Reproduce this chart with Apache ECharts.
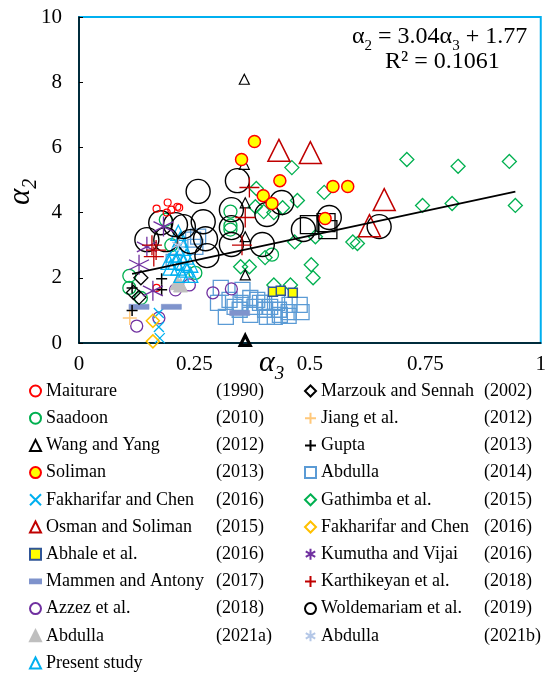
<!DOCTYPE html>
<html>
<head>
<meta charset="utf-8">
<script src="https://cdn.jsdelivr.net/npm/echarts@6/dist/echarts.min.js"></script>
<style>
  html, body { margin: 0; padding: 0; background: #fff; }
  #chart { width: 549px; height: 673px; }
</style>
</head>
<body>
<div id="chart"></div>
<script>
// Axis ticks
const xTicks = [0, 0.25, 0.5, 0.75, 1];
const yTicks = [0, 2, 4, 6, 8, 10];

// Linear fit α2 = a·α3 + b over the data range
const fitSlope = 3.04;
const fitIntercept = 1.77;
const fitR2 = '0.1061';
const fitRange = [0.115, 0.945];

// [α3, α2] pairs per study
const maiturare = [[0.168,4.12],[0.192,4.31],[0.2,4.09],[0.213,4.18],[0.217,4.15],[0.19,4.0],[0.168,1.69]];
const saadoon = [[0.109,2.06],[0.109,1.69],[0.134,1.38],[0.188,3.78],[0.2,3.0],[0.252,2.15],[0.328,4.03],[0.328,3.6],[0.328,3.48],[0.418,2.71]];
const wangYang = [[0.358,8.09],[0.358,5.48],[0.36,4.3],[0.36,3.26],[0.36,2.09]];
const wangYangLow = [0.36,0.08];
const soliman = [[0.38,6.18],[0.352,5.63],[0.435,4.98],[0.399,4.52],[0.418,4.28],[0.55,4.8],[0.582,4.8],[0.533,3.82]];
const fakharifarX = [[0.173,0.92],[0.173,0.49],[0.175,0.15]];
const osmanSoliman = [[0.433,5.91],[0.501,5.84],[0.661,4.4],[0.629,3.6]];
const abhale = [[0.42,1.57],[0.437,1.6],[0.463,1.54]];
const mammenAntony = [[0.13,1.11],[0.2,1.11],[0.348,0.92]];
const azzez = [[0.125,0.52],[0.173,0.77],[0.209,1.63],[0.239,1.78],[0.29,1.54],[0.33,1.66]];
const abdulla2021a = [[0.22,1.78],[0.212,1.85]];
const presentStudy = [[0.215,3.38],[0.219,3.17],[0.211,2.92],[0.226,2.92],[0.205,2.71],[0.219,2.71],[0.232,2.65],[0.209,2.49],[0.226,2.46],[0.241,2.4],[0.215,2.31],[0.232,2.25],[0.222,2.09],[0.241,2.09],[0.194,2.49],[0.198,2.31]];
const marzoukSennah = [[0.134,2.0],[0.118,1.55],[0.13,1.4]];
const jiang = [[0.11,0.77]];
const gupta = [[0.179,1.97],[0.179,1.63],[0.115,1.69],[0.115,1.0]];
const abdulla2014 = [[0.307,1.69],[0.301,1.23],[0.318,0.8],[0.326,1.32],[0.337,1.11],[0.354,1.63],[0.371,1.38],[0.38,1.11],[0.371,0.86],[0.392,1.23],[0.403,1.02],[0.407,0.8],[0.429,1.23],[0.433,1.02],[0.424,0.8],[0.454,0.95],[0.456,1.17],[0.478,1.17],[0.482,0.95],[0.35,1.23],[0.348,1.02],[0.386,1.32],[0.414,1.11],[0.401,1.23],[0.435,0.86],[0.454,0.83],[0.258,3.26],[0.247,3.17],[0.252,2.95],[0.205,2.49]];
const gathimba = [[0.71,5.63],[0.821,5.42],[0.932,5.57],[0.945,4.22],[0.808,4.28],[0.744,4.22],[0.461,5.38],[0.531,4.62],[0.473,4.37],[0.441,4.15],[0.603,3.05],[0.512,3.26],[0.467,3.1],[0.503,2.4],[0.507,2.0],[0.458,1.78],[0.384,4.74],[0.382,4.18],[0.4,4.03],[0.422,4.0],[0.403,2.62],[0.35,2.34],[0.369,2.34],[0.593,3.1],[0.422,1.78]];
const fakharifarD = [[0.16,0.68],[0.16,0.05]];
const kumuthaVijai = [[0.13,2.4],[0.147,2.95],[0.16,1.6],[0.183,3.57]];
const karthikeyan = [[0.158,3.0],[0.162,2.65],[0.167,2.85],[0.369,4.77],[0.36,3.85],[0.353,3.0]];
const woldemariam = [[0.258,4.65],[0.343,4.98],[0.33,4.09],[0.33,3.54],[0.33,3.02],[0.397,3.02],[0.407,3.94],[0.439,4.31],[0.177,3.69],[0.209,3.63],[0.226,3.57],[0.147,3.17],[0.188,3.17],[0.241,3.11],[0.269,3.72],[0.274,3.2],[0.277,2.68],[0.486,3.48],[0.542,3.85],[0.65,3.57]];
const abdulla2021b = [[0.215,3.0]];
const openSquares = [[0.499,3.63],[0.535,3.69],[0.539,3.48]];

const SERIF = '"Liberation Serif", "Times New Roman", serif';
const NONE = 'rgba(0,0,0,0)';
const PLUS = 'path://M5,0L5,10M0,5L10,5';
const CROSS = 'path://M0,0L10,10M10,0L0,10';
const STAR = 'path://M5,0L5,10M0.7,2.5L9.3,7.5M0.7,7.5L9.3,2.5';
const BAR = 'path://M0,0L12,0L12,4L0,4Z';

function sc(name, data, symbol, size, fill, stroke, bw, z) {
  return {
    type: 'scatter', name, data, symbol, symbolSize: size,
    itemStyle: { color: fill, borderColor: stroke, borderWidth: bw, opacity: 1 },
    z: z || 2, silent: true, animation: false
  };
}

const series = [
  sc('Abdulla (2014)', abdulla2014, 'rect', 15, NONE, '#5B9BD5', 1.3),
  sc('Gathimba et al. (2015)', gathimba, 'diamond', 14, NONE, '#00B050', 1.3),
  sc('Saadoon (2010)', saadoon, 'circle', 13, NONE, '#00B050', 1.3),
  sc('Azzez et al. (2018)', azzez, 'circle', 12, NONE, '#7030A0', 1.3),
  sc('Abdulla (2021a)', abdulla2021a, 'triangle', 14, '#BFBFBF', '#BFBFBF', 1),
  sc('Present study', presentStudy, 'triangle', 15, NONE, '#00B0F0', 1.3),
  sc('Woldemariam et al. (2019)', woldemariam, 'circle', 24, NONE, '#000000', 1.4),
  sc('Unlisted data', openSquares, 'rect', 18, NONE, '#000000', 1.3),
  sc('Maiturare (1990)', maiturare, 'circle', 7, NONE, '#FF0000', 1.2),
  sc('Wang and Yang (2012)', wangYang.concat([{ value: wangYangLow, itemStyle: { borderWidth: 3.2 } }]), 'triangle', 10, NONE, '#000000', 1.2),
  sc('Soliman (2013)', soliman, 'circle', 12, '#FFFF00', '#FF0000', 1.5, 3),
  sc('Fakharifar and Chen (2016)', fakharifarX, CROSS, 10, NONE, '#00B0F0', 1.3),
  sc('Osman and Soliman (2015)', osmanSoliman, 'triangle', 22, NONE, '#C00000', 1.5),
  sc('Abhale et al. (2016)', abhale, 'rect', 9, '#FFFF00', '#2F5597', 1.5, 3),
  sc('Mammen and Antony (2017)', mammenAntony, 'rect', [20, 5], '#7F93CC', '#7F93CC', 0.5),
  sc('Marzouk and Sennah (2002)', marzoukSennah, 'diamond', 14, NONE, '#000000', 1.3),
  sc('Jiang et al. (2012)', jiang, PLUS, 14, NONE, '#FFC87A', 1.5),
  sc('Gupta (2013)', gupta, PLUS, 11, NONE, '#000000', 1.5),
  sc('Fakharifar and Chen  (2016)', fakharifarD, 'diamond', 13, NONE, '#FFC000', 1.5),
  sc('Kumutha and Vijai (2016)', kumuthaVijai, STAR, 20, NONE, '#7030A0', 1.3),
  sc('Karthikeyan et al. (2018)', karthikeyan, PLUS, 20, NONE, '#C00000', 1.3),
  sc('Abdulla (2021b)', abdulla2021b, STAR, 12, NONE, '#B4C7E7', 1.3),
  {
    type: 'line', name: 'Linear fit', silent: true, animation: false, z: 5,
    symbol: 'none',
    lineStyle: { color: '#000', width: 1.8 },
    data: fitRange.map(x => [x, fitSlope * x + fitIntercept])
  }
];

const leftItems = ['Maiturare (1990)', 'Saadoon (2010)', 'Wang and Yang (2012)', 'Soliman (2013)',
  'Fakharifar and Chen (2016)', 'Osman and Soliman (2015)', 'Abhale et al. (2016)',
  { name: 'Mammen and Antony (2017)', icon: BAR }, 'Azzez et al. (2018)', 'Abdulla (2021a)', 'Present study'];
const rightItems = ['Marzouk and Sennah (2002)', 'Jiang et al. (2012)', 'Gupta (2013)', 'Abdulla (2014)',
  'Gathimba et al. (2015)', 'Fakharifar and Chen  (2016)', 'Kumutha and Vijai (2016)',
  'Karthikeyan et al. (2018)', 'Woldemariam et al. (2019)', 'Abdulla (2021b)'];

function legendFormatter(name) {
  const i = name.lastIndexOf('(');
  if (i < 0) return '{n|' + name + '}';
  return '{n|' + name.slice(0, i).trim() + '}{y|' + name.slice(i) + '}';
}
function legend(left, items, nameWidth) {
  return {
    orient: 'vertical', left, top: 382, padding: 0, itemWidth: 11, itemHeight: 11, itemGap: 9.2,
    selectedMode: false, data: items, formatter: legendFormatter,
    textStyle: {
      color: '#000', fontFamily: SERIF, fontSize: 18,
      rich: {
        n: { width: nameWidth, fontFamily: SERIF, fontSize: 18, lineHeight: 20, color: '#000' },
        y: { fontFamily: SERIF, fontSize: 18, lineHeight: 20, color: '#000' }
      }
    }
  };
}

const axisText = { color: '#000', fontFamily: SERIF, fontSize: 21 };

const chart = echarts.init(document.getElementById('chart'), null, { renderer: 'canvas' });
chart.setOption({
  animation: false,
  backgroundColor: '#fff',
  grid: { left: 79, top: 17, right: 1, bottom: 330, show: true, borderColor: '#00B0F0', borderWidth: 2, backgroundColor: 'transparent' },
  xAxis: {
    type: 'value', min: xTicks[0], max: xTicks[xTicks.length - 1], interval: xTicks[1] - xTicks[0],
    axisLine: { show: true, lineStyle: { color: '#000', width: 1.5 } },
    axisTick: { show: false }, splitLine: { show: false },
    axisLabel: Object.assign({ margin: 11 }, axisText)
  },
  yAxis: {
    type: 'value', min: yTicks[0], max: yTicks[yTicks.length - 1], interval: yTicks[1] - yTicks[0],
    axisLine: { show: true, lineStyle: { color: '#000', width: 1.5 } },
    axisTick: { show: true, inside: true, length: 4, lineStyle: { color: '#000' } },
    splitLine: { show: false },
    axisLabel: Object.assign({ margin: 17 }, axisText)
  },
  legend: [legend(29, leftItems, 170), legend(304, rightItems, 163)],
  graphic: [
    {
      type: 'text', left: 352, top: 25, silent: true,
      style: {
        text: '{m|α}{s|2}{m| = 3.04α}{s|3}{m| + 1.77}',
        rich: {
          m: { fontFamily: SERIF, fontSize: 24, color: '#000', verticalAlign: 'bottom', padding: [0, 0, 5, 0] },
          s: { fontFamily: SERIF, fontSize: 15, color: '#000', verticalAlign: 'bottom' }
        }
      }
    },
    {
      type: 'text', left: 385, top: 50, silent: true,
      style: { text: 'R² = ' + fitR2, fontFamily: SERIF, fontSize: 24, fill: '#000' }
    },
    {
      type: 'text', x: 5, y: 205, rotation: Math.PI / 2, silent: true,
      style: {
        text: '{m|α}{s|2}',
        rich: {
          m: { fontFamily: SERIF, fontStyle: 'italic', fontSize: 31, color: '#000', verticalAlign: 'bottom', padding: [0, 0, 5, 0] },
          s: { fontFamily: SERIF, fontStyle: 'italic', fontSize: 20, color: '#000', verticalAlign: 'bottom' }
        }
      }
    },
    {
      type: 'text', left: 259, top: 348, silent: true,
      style: {
        text: '{m|α}{s|3}',
        rich: {
          m: { fontFamily: SERIF, fontStyle: 'italic', fontSize: 30, color: '#000', verticalAlign: 'bottom', padding: [0, 0, 5, 0] },
          s: { fontFamily: SERIF, fontStyle: 'italic', fontSize: 19, color: '#000', verticalAlign: 'bottom' }
        }
      }
    }
  ],
  series
});
</script>
</body>
</html>
